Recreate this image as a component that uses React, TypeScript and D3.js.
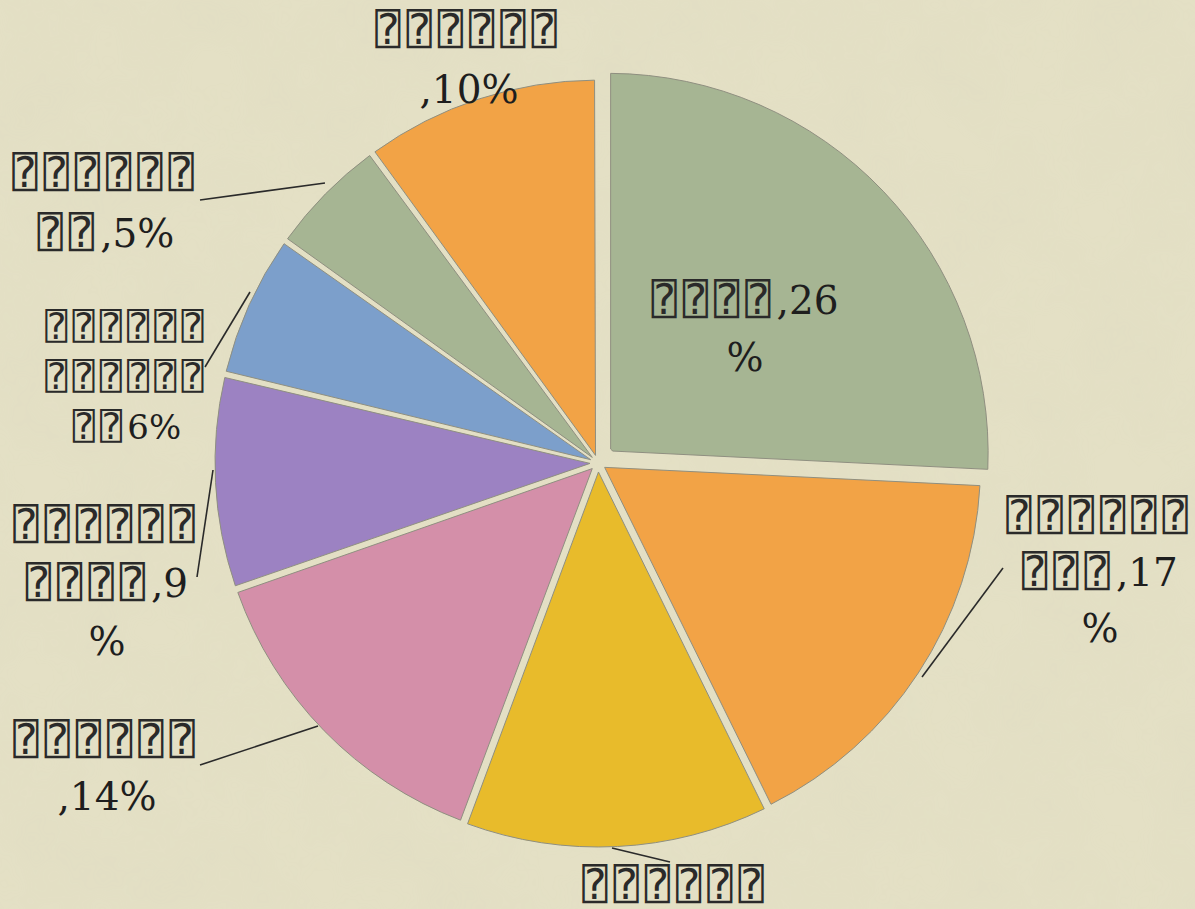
import React from "react";
import * as d3 from "d3";

const categories = ["A", "B", "C", "D", "E", "F", "G", "H"];
const values = [26, 17, 13, 14, 9, 6, 5, 10];
const sliceColors = ["#a6b593", "#f2a346", "#e8bb2b", "#d48fa9", "#9c82c2", "#7c9fcb", "#a6b593", "#f2a346"];
const labelLines: string[][] = [
  ["⍰⍰⍰⍰,26", "%"],
  ["⍰⍰⍰⍰⍰⍰", "⍰⍰⍰,17", "%"],
  ["⍰⍰⍰⍰⍰⍰"],
  ["⍰⍰⍰⍰⍰⍰", ",14%"],
  ["⍰⍰⍰⍰⍰⍰", "⍰⍰⍰⍰,9", "%"],
  ["⍰⍰⍰⍰⍰⍰", "⍰⍰⍰⍰⍰⍰", "⍰⍰6%"],
  ["⍰⍰⍰⍰⍰⍰", "⍰⍰,5%"],
  ["⍰⍰⍰⍰⍰⍰", ",10%"],
];

// layout (not data)
const W = 1195, H = 909;
const CX = 598, CY = 463, R = 380;
const explode = [14, 3, 4, 3, 3, 3, 3, 3];
const labelLayout = [
  { x: 745, y: 314, lh: 57, s: 1 },
  { x: 1100, y: 530, lh: 56, s: 1 },
  { x: 676, y: 899, lh: 56, s: 1 },
  { x: 107, y: 754, lh: 56, s: 1 },
  { x: 107, y: 539, lh: 58, s: 1 },
  { x: 127, y: 339, lh: 50, s: 0.87 },
  { x: 106, y: 187, lh: 60, s: 1 },
  { x: 469, y: 44, lh: 59, s: 1 },
];
const leaders: ([number, number, number, number] | null)[] = [
  null,
  [1003, 568, 922, 677],
  [612, 848, 670, 862],
  [200, 765, 318, 726],
  [197, 577, 213, 470],
  [205, 367, 250, 292],
  [200, 200, 325, 183],
  null,
];

function Line({ text, x, y, s }: { text: string; x: number; y: number; s: number }) {
  const parts: { t: string; box: boolean }[] = [];
  for (const ch of text) {
    const box = ch === "⍰";
    const last = parts[parts.length - 1];
    if (last && last.box === box) last.t += ch;
    else parts.push({ t: ch, box });
  }
  return (
    <text x={x} y={y} textAnchor="middle" fill="#1e1e1e">
      {parts.map((p, i) =>
        p.box ? (
          <tspan key={i} fontFamily="'DejaVu Sans Mono'" fontSize={42 * s} letterSpacing={6 * s} fill="#2a2a2a">
            {p.t}
          </tspan>
        ) : (
          <tspan key={i} fontFamily="'DejaVu Serif'" fontSize={39 * s}>
            {p.t}
          </tspan>
        )
      )}
    </text>
  );
}

export default function App() {
  const pie = d3.pie<number>().sort(null).value((d) => d).padAngle(5 / R);
  const arcs = pie(values);
  const arc = d3.arc<d3.PieArcDatum<number>>().innerRadius(5).outerRadius(R).padRadius(R);
  return (
    <svg width={W} height={H} style={{ position: "absolute", left: 0, top: 0 }}>
      <defs>
        <filter id="tex" x="0" y="0" width="100%" height="100%">
          <feTurbulence type="fractalNoise" baseFrequency="0.012" numOctaves="4" seed="3" result="n" />
          <feColorMatrix
            type="matrix"
            values="0 0 0 0 0.6  0 0 0 0 0.58  0 0 0 0 0.45  0 0 0 0.35 -0.1"
          />
        </filter>
      </defs>
      <rect width={W} height={H} fill="#e4e0c5" />
      <rect width={W} height={H} filter="url(#tex)" opacity={0.35} />
      <g transform={`translate(${CX},${CY})`}>
        {arcs.map((a, i) => {
          const mid = (a.startAngle + a.endAngle) / 2;
          const dx = Math.sin(mid) * explode[i];
          const dy = -Math.cos(mid) * explode[i];
          return (
            <path
              key={categories[i]}
              d={arc(a) || ""}
              transform={`translate(${dx},${dy})`}
              fill={sliceColors[i]}
              stroke="#8f8f80"
              strokeWidth={1}
            />
          );
        })}
      </g>
      {leaders.map((l, i) =>
        l ? <line key={i} x1={l[0]} y1={l[1]} x2={l[2]} y2={l[3]} stroke="#2a2a2a" strokeWidth={1.6} /> : null
      )}
      {labelLines.map((lines, i) =>
        lines.map((t, j) => (
          <Line
            key={`${i}-${j}`}
            text={t}
            x={labelLayout[i].x}
            y={labelLayout[i].y + j * labelLayout[i].lh}
            s={labelLayout[i].s}
          />
        ))
      )}
    </svg>
  );
}
